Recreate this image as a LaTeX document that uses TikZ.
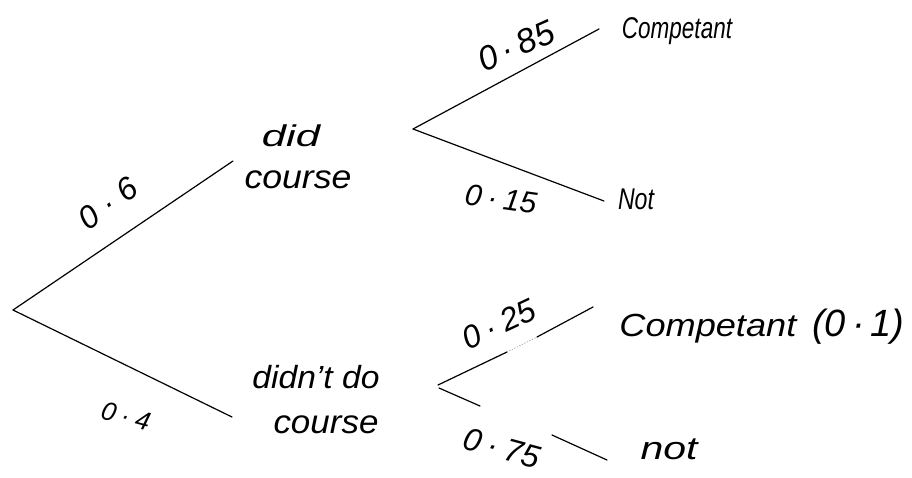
\documentclass[tikz,border=0pt]{standalone}
\usepackage{graphicx}
\usepackage{fontspec}
\setmainfont{Liberation Sans}
\newcommand\probtxt[3]{#1\hspace{#3}·\hspace{#3}#2}
\newcommand\hw[2]{\scalebox{#1}[1]{#2}}
\begin{document}
\begin{tikzpicture}[x=1pt,y=-1pt,
  branch/.style={line width=1.2pt, line cap=round},
  word/.style={font=\itshape\fontsize{30}{32}\selectfont, inner sep=0pt},
  prob/.style={font=\itshape\fontsize{32}{34}\selectfont, inner sep=0pt}]
\useasboundingbox (0,0) rectangle (912,477);
% branch points
\coordinate (root) at (13,310);
\coordinate (dcIn) at (233,161);
\coordinate (dncIn) at (232,417);
\coordinate (dcOut) at (413,129);
\coordinate (compA) at (599,29);
\coordinate (notA) at (604,201);
\coordinate (dncOut) at (438,385);
\coordinate (gapA) at (507,352);
\coordinate (gapB) at (537,337);
\coordinate (compB) at (593,307);
\coordinate (dncOut2) at (439,388);
\coordinate (breakA) at (480,406);
\coordinate (breakB) at (552,435);
\coordinate (notB) at (607,460);
% texts
\node[word] (dc1) at (291,136) {\hw{1.45}{did}};
\node[word, font=\itshape\fontsize{33}{35}\selectfont] (dc2) at (298,180) {\hw{1.08}{course}};
\node[word, font=\itshape\fontsize{32}{34}\selectfont] (dnc1) at (316,377) {\hw{1.05}{didn't do}};
\node[word, font=\itshape\fontsize{33}{35}\selectfont] (dnc2) at (326,425) {\hw{1.06}{course}};
\node[word] (leafA) at (677,31) {\hw{0.75}{Competant}};
\node[word] (leafB) at (636,199) {\hw{0.77}{Not}};
\node[word, font=\itshape\fontsize{32}{34}\selectfont] (leafC) at (762,327) {\hw{1.13}{Competant}\hspace{16pt}{\fontsize{38}{40}\selectfont(0\hspace{6pt}·\hspace{6pt}1)}};
\node[word, font=\itshape\fontsize{32}{34}\selectfont] (leafD) at (669,449) {\hw{1.28}{not}};
% probabilities
\node[prob, rotate=37] (p06) at (108,203) {\probtxt{0}{6}{9pt}};
\node[prob, rotate=-15, font=\itshape\fontsize{26}{28}\selectfont] (p04) at (126,416) {\probtxt{0}{4}{6pt}};
\node[prob, rotate=24, font=\itshape\fontsize{34}{36}\selectfont] (p085) at (516,46) {\probtxt{0}{85}{6pt}};
\node[prob, rotate=-8, font=\itshape\fontsize{30}{32}\selectfont] (p015) at (501,199) {\probtxt{0}{15}{6pt}};
\node[prob, rotate=25] (p025) at (499,324) {\probtxt{0}{25}{7pt}};
\node[prob, rotate=-15] (p075) at (502,448) {\probtxt{0}{75}{7pt}};
% branches
\draw[branch] (root) -- (dcIn);
\draw[branch] (root) -- (dncIn);
\draw[branch] (dcOut) -- (compA);
\draw[branch] (dcOut) -- (notA);
\draw[branch] (dncOut) -- (gapA);
\draw[branch, black!35, line width=0.8pt, dotted] (gapA) -- (gapB);
\draw[branch] (gapB) -- (compB);
\draw[branch] (dncOut2) -- (breakA);
\draw[branch] (breakB) -- (notB);
\end{tikzpicture}
\end{document}
